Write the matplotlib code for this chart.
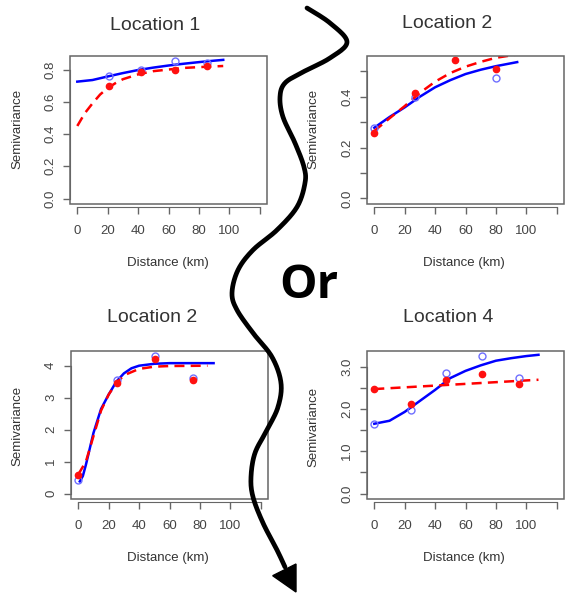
import matplotlib
matplotlib.use('Agg')
import matplotlib.pyplot as plt
import numpy as np
from matplotlib.patches import Rectangle, Polygon
from matplotlib.lines import Line2D

plt.rcParams['font.family'] = ['Liberation Sans', 'DejaVu Sans']

W, H = 578, 599
GRAY = '#666666'
TXT = '#333333'

# --- Location 1 ---
loc1_dist = [21, 42, 64, 85]
loc1_blue = [0.757, 0.800, 0.853, 0.843]
loc1_red = [0.695, 0.783, 0.800, 0.825]
loc1_blue_fit_x = [0, 10, 20, 30, 40, 50, 60, 70, 80, 90, 96]
loc1_blue_fit = [0.725, 0.735, 0.757, 0.778, 0.797, 0.812, 0.825, 0.836, 0.846, 0.855, 0.860]
loc1_red_fit_x = [0, 5, 10, 15, 20, 25, 30, 40, 50, 60, 70, 80, 96]
loc1_red_fit = [0.45, 0.53, 0.59, 0.645, 0.685, 0.715, 0.74, 0.77, 0.79, 0.80, 0.81, 0.815, 0.822]

# --- Location 2 (top right) ---
loc2_red_dist = [0, 26.7, 53.3, 80.2]
loc2_red = [0.258, 0.416, 0.544, 0.507]
loc2_blue_dist = [0, 26.7, 80.2]
loc2_blue = [0.276, 0.400, 0.472]
loc2_blue_fit_x = [0, 10, 20, 30, 40, 50, 60, 70, 80, 94]
loc2_blue_fit = [0.278, 0.320, 0.358, 0.400, 0.437, 0.465, 0.489, 0.506, 0.520, 0.536]
loc2_red_fit_x = [0, 10, 20, 30, 40, 50, 60, 70, 80, 94]
loc2_red_fit = [0.265, 0.315, 0.363, 0.415, 0.459, 0.493, 0.518, 0.537, 0.553, 0.566]

# --- Location 2 (bottom left) ---
loc3_dist = [0, 25.2, 50.7, 75.7]
loc3_red = [0.57, 3.46, 4.20, 3.56]
loc3_blue = [0.42, 3.56, 4.31, 3.63]
loc3_blue_fit_x = [1, 3, 5, 10, 15, 20, 25, 30, 35, 40, 50, 60, 89]
loc3_blue_fit = [0.38, 0.55, 0.90, 1.90, 2.65, 3.10, 3.50, 3.76, 3.92, 4.00, 4.06, 4.08, 4.08]
loc3_red_fit_x = [0, 5, 10, 15, 20, 25, 30, 40, 50, 60, 85]
loc3_red_fit = [0.60, 1.00, 1.80, 2.60, 3.10, 3.45, 3.70, 3.90, 3.97, 3.99, 4.00]

# --- Location 4 ---
loc4_dist = [0, 24, 47, 71, 95]
loc4_blue = [1.65, 1.98, 2.85, 3.25, 2.73]
loc4_red = [2.47, 2.12, 2.69, 2.82, 2.59]
loc4_blue_fit_x = [0, 10, 20, 30, 40, 50, 60, 70, 80, 90, 100, 108]
loc4_blue_fit = [1.65, 1.72, 1.93, 2.19, 2.45, 2.73, 2.90, 3.03, 3.14, 3.20, 3.25, 3.28]
loc4_red_fit_x = [0, 54, 108]
loc4_red_fit = [2.47, 2.58, 2.69]

x_ticks = [0, 20, 40, 60, 80, 100, 120]
x_tick_labels = ['0', '20', '40', '60', '80', '100', '']

panels = [
    dict(title='Location 1', box=(70, 56, 267, 204), ylim=(-0.034, 0.884),
         yticks=[0, 0.2, 0.4, 0.6, 0.8], ylabels=['0.0', '0.2', '0.4', '0.6', '0.8'],
         red=(loc1_dist, loc1_red), blue=(loc1_dist, loc1_blue),
         rfit=(loc1_red_fit_x, loc1_red_fit), bfit=(loc1_blue_fit_x, loc1_blue_fit),
         tpos=(155, 25), xlpos=(168, 263), ylpos=(17, 129)),
    dict(title='Location 2', box=(367, 56, 564, 204), ylim=(-0.022, 0.56),
         yticks=[0, 0.1, 0.2, 0.3, 0.4, 0.5], ylabels=['0.0', '', '0.2', '', '0.4', ''],
         red=(loc2_red_dist, loc2_red), blue=(loc2_blue_dist, loc2_blue),
         rfit=(loc2_red_fit_x, loc2_red_fit), bfit=(loc2_blue_fit_x, loc2_blue_fit),
         tpos=(447, 24), xlpos=(464, 263), ylpos=(313, 129)),
    dict(title='Location 2', box=(71, 351, 268, 499), ylim=(-0.17, 4.46),
         yticks=[0, 1, 2, 3, 4], ylabels=['0', '1', '2', '3', '4'],
         red=(loc3_dist, loc3_red), blue=(loc3_dist, loc3_blue),
         rfit=(loc3_red_fit_x, loc3_red_fit), bfit=(loc3_blue_fit_x, loc3_blue_fit),
         tpos=(152, 318), xlpos=(168, 558), ylpos=(17, 426)),
    dict(title='Location 4', box=(367, 351, 564, 499), ylim=(-0.13, 3.37),
         yticks=[0, 0.5, 1, 1.5, 2, 2.5, 3], ylabels=['0.0', '', '1.0', '', '2.0', '', '3.0'],
         red=(loc4_dist, loc4_red), blue=(loc4_dist, loc4_blue),
         rfit=(loc4_red_fit_x, loc4_red_fit), bfit=(loc4_blue_fit_x, loc4_blue_fit),
         tpos=(448, 317), xlpos=(464, 558), ylpos=(313, 427)),
]


def fxy(x, y):
    # pixel position (from top-left) -> figure fraction
    return x / W, 1 - y / H


def catmull(pts, n=14):
    pts = np.asarray(pts, dtype=float)
    out = []
    for i in range(len(pts) - 1):
        p0 = pts[max(i - 1, 0)]
        p1 = pts[i]
        p2 = pts[i + 1]
        p3 = pts[min(i + 2, len(pts) - 1)]
        for t in np.linspace(0, 1, n, endpoint=False):
            t2, t3 = t * t, t * t * t
            out.append(0.5 * (2 * p1 + (-p0 + p2) * t + (2 * p0 - 5 * p1 + 4 * p2 - p3) * t2
                              + (-p0 + 3 * p1 - 3 * p2 + p3) * t3))
    out.append(pts[-1])
    return np.array(out)


fig = plt.figure(figsize=(W / 100, H / 100), dpi=100)

for p in panels:
    l, t, r, b = p['box']
    ax = fig.add_axes([l / W, 1 - b / H, (r - l) / W, (b - t) / H])
    ax.set_xlim(-4.8, 124.8)
    ax.set_ylim(*p['ylim'])
    for s in ax.spines.values():
        s.set_visible(False)
    ax.add_patch(Rectangle((0, 0), 1, 1, transform=ax.transAxes, fill=False,
                           ec=GRAY, lw=1.1, clip_on=False, zorder=5))
    ax.spines['left'].set_visible(True)
    ax.spines['left'].set_bounds(p['yticks'][0], p['yticks'][-1])
    ax.spines['left'].set_color(GRAY)
    ax.spines['bottom'].set_visible(True)
    ax.spines['bottom'].set_position(('outward', 2))
    ax.spines['bottom'].set_bounds(0, 120)
    ax.spines['bottom'].set_color(GRAY)

    ax.set_xticks(x_ticks)
    ax.set_xticklabels(x_tick_labels)
    ax.set_yticks(p['yticks'])
    ax.set_yticklabels(p['ylabels'], rotation=90, va='center')
    ax.tick_params(length=5, width=1, color=GRAY, labelcolor='#444444', labelsize=9.5)
    ax.tick_params(axis='x', pad=8)
    ax.tick_params(axis='y', pad=5)

    ax.plot(*p['bfit'], color='#0000ff', lw=1.8, zorder=3)
    ax.plot(*p['rfit'], color='#ff0000', lw=1.8, ls=(0, (4, 2.5)), zorder=3)
    ax.plot(*p['blue'], 'o', mfc='none', mec='#6f6fff', ms=5, mew=1, zorder=4)
    ax.plot(*p['red'], 'o', color='#ff1010', ms=4.5, zorder=4)

    fig.text(*fxy(*p['tpos']), p['title'], ha='center', va='center', fontsize=14, color=TXT)
    fig.text(*fxy(*p['xlpos']), 'Distance (km)', ha='center', va='center', fontsize=9.5, color=TXT)
    fig.text(*fxy(*p['ylpos']), 'Semivariance', ha='center', va='center', fontsize=9.5,
             color=TXT, rotation=90)

# wavy arrow between the panels
wave_px = [(307, 8), (330, 23), (347, 42), (330, 58), (303, 72), (285, 83), (280, 97),
           (283, 117), (295, 143), (304, 167), (305, 183), (297, 207), (277, 230),
           (253, 250), (238, 270), (232, 293), (237, 310), (253, 333), (272, 357),
           (281, 383), (278, 407), (267, 430), (255, 453), (251, 477), (253, 497),
           (263, 523), (277, 550), (285, 567)]
curve = catmull(wave_px)
fig.add_artist(Line2D(curve[:, 0] / W, 1 - curve[:, 1] / H, transform=fig.transFigure,
                      color='black', lw=3.4, solid_capstyle='round', zorder=20))
head = [fxy(272.7, 575.7), fxy(296, 564), fxy(296, 592)]
fig.add_artist(Polygon(head, closed=True, transform=fig.transFigure, color='black', zorder=21))

fig.text(*fxy(309, 285), 'Or', ha='center', va='center', fontsize=34, fontweight='bold',
         family=['Open Sans', 'DejaVu Sans'], color='black', zorder=22)

fig.savefig('out.png', dpi=100)
